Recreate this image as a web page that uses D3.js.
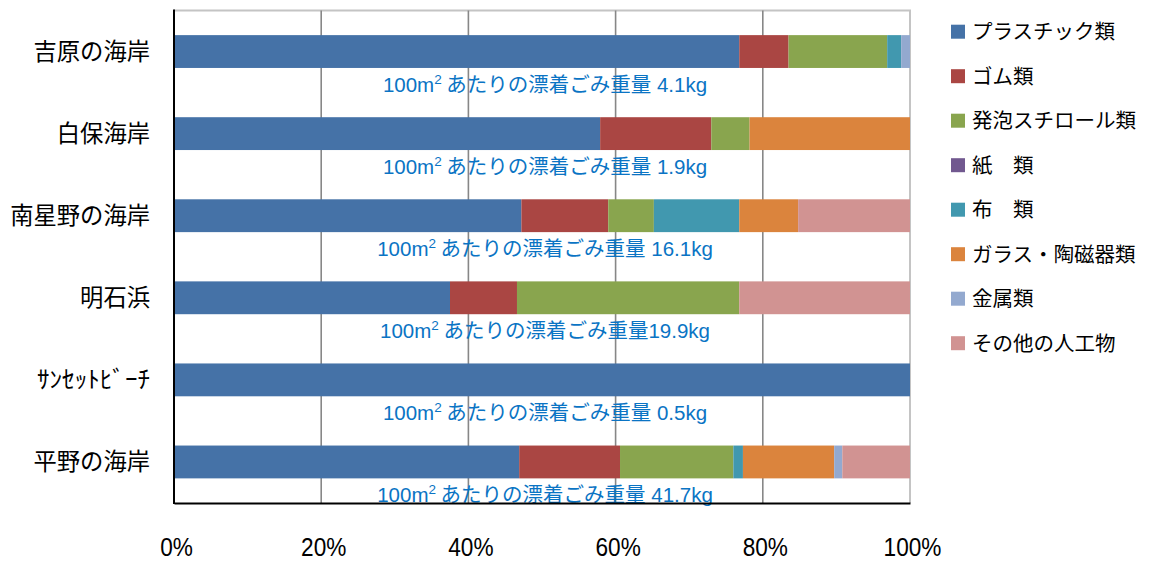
<!DOCTYPE html>
<html>
<head>
<meta charset="utf-8">
<script src="https://cdn.jsdelivr.net/npm/d3@7/dist/d3.min.js"></script>
<style>
  html, body { margin: 0; padding: 0; background: #fff; }
  svg { display: block; }
</style>
</head>
<body>
<svg id="chart" width="1162" height="561"></svg>
<script>
// Beaches (top to bottom)
const categories = ["吉原の海岸", "白保海岸", "南星野の海岸", "明石浜", "ｻﾝｾｯﾄﾋﾞｰﾁ", "平野の海岸"];

// Litter categories (legend order = stacking order)
const seriesNames = ["プラスチック類", "ゴム類", "発泡スチロール類", "紙　類", "布　類", "ガラス・陶磁器類", "金属類", "その他の人工物"];
const seriesColors = ["#4572A7", "#AA4643", "#89A54E", "#71588F", "#4198AF", "#DB843D", "#93A9CF", "#D19392"];

// Share of weight (%) per beach, one array per litter category
const plastic   = [76.8, 57.9, 47.2, 37.5, 100.0, 46.9];
const rubber    = [ 6.7, 15.1, 11.8,  9.1,   0.0, 13.7];
const styrofoam = [13.4,  5.2,  6.2, 30.2,   0.0, 15.4];
const paper     = [ 0.0,  0.0,  0.0,  0.0,   0.0,  0.0];
const cloth     = [ 1.9,  0.0, 11.6,  0.0,   0.0,  1.3];
const glass     = [ 0.0, 21.8,  8.0,  0.0,   0.0, 12.4];
const metal     = [ 1.2,  0.0,  0.0,  0.0,   0.0,  1.1];
const other     = [ 0.0,  0.0, 15.2, 23.2,   0.0,  9.2];

// Litter weight per 100 m² (kg) and the spacing used before the number
const weights    = [4.1, 1.9, 16.1, 19.9, 0.5, 41.7];
const weightSeps = [" ", " ", " ", "", " ", " "];

const xTicks = [0, 20, 40, 60, 80, 100];

const seriesValues = [plastic, rubber, styrofoam, paper, cloth, glass, metal, other];

// Rows for d3.stack
const rows = categories.map((c, i) => {
  const r = { category: c };
  seriesNames.forEach((s, k) => { r[s] = seriesValues[k][i]; });
  return r;
});

const svg = d3.select("#chart");
const plot = { left: 174, right: 910, top: 10.5, bottom: 503 };

const x = d3.scaleLinear().domain([0, 100]).range([plot.left, plot.right]);
const y = d3.scaleBand().domain(categories).range([plot.top, plot.bottom]).paddingInner(0.6).paddingOuter(0.3);
const color = d3.scaleOrdinal().domain(seriesNames).range(seriesColors);

const latin = "'Liberation Sans', Arial, 'Noto Sans CJK JP', sans-serif";
const cjk = "'Noto Sans CJK JP', 'Noto Sans', sans-serif";

// Plot-area frame (top and right edges, light gray)
svg.append("path")
  .attr("d", `M${plot.left},${plot.top}H${plot.right}V${plot.bottom}`)
  .attr("fill", "none").attr("stroke", "#c4c4c4").attr("stroke-width", 2);

// Vertical gridlines
svg.append("g").selectAll("line")
  .data(xTicks.filter(t => t > 0 && t < 100))
  .join("line")
  .attr("x1", d => x(d)).attr("x2", d => x(d))
  .attr("y1", plot.top).attr("y2", plot.bottom)
  .attr("stroke", "#878787").attr("stroke-width", 1.6);

// Stacked bars
const stacked = d3.stack().keys(seriesNames)(rows);
svg.append("g").selectAll("g")
  .data(stacked)
  .join("g")
  .attr("fill", d => color(d.key))
  .selectAll("rect")
  .data(d => d)
  .join("rect")
  .attr("x", d => x(d[0]))
  .attr("width", d => Math.max(0, x(d[1]) - x(d[0])))
  .attr("y", d => y(d.data.category))
  .attr("height", y.bandwidth());

// Weight annotations under each bar
const notes = svg.append("g")
  .attr("fill", "#0a74c4")
  .attr("font-size", 20.5)
  .attr("font-family", latin)
  .selectAll("text")
  .data(categories)
  .join("text")
  .attr("x", x(50) + 3)
  .attr("y", (d, i) => y(d) + y.bandwidth() / 2 + 40)
  .attr("text-anchor", "middle");
notes.append("tspan").text("100m");
notes.append("tspan").attr("font-size", 13.5).attr("dy", -7.5).text("2");
notes.append("tspan").attr("dy", 7.5).attr("font-family", cjk).text(" あたりの漂着ごみ重量");
notes.append("tspan").text((d, i) => weightSeps[i] + weights[i] + "kg");

// Left axis (category labels); half-width katakana names are stretched to full label width
const halfWidth = /[\uFF61-\uFF9F]/;
svg.append("g")
  .selectAll("text")
  .data(categories)
  .join("text")
  .attr("x", 150)
  .attr("y", d => y(d) + y.bandwidth() / 2)
  .attr("dy", "0.36em")
  .attr("text-anchor", "end")
  .attr("font-family", cjk)
  .attr("font-size", 23.3)
  .attr("fill", "#000")
  .each(function (d) {
    if (halfWidth.test(d)) {
      d3.select(this).attr("textLength", 113).attr("lengthAdjust", "spacingAndGlyphs");
    }
  })
  .text(d => d);

svg.append("line")
  .attr("x1", plot.left).attr("x2", plot.left)
  .attr("y1", plot.top - 1).attr("y2", plot.bottom + 1)
  .attr("stroke", "#000").attr("stroke-width", 2);

// Bottom axis (condensed tick labels)
const xAxis = svg.append("g")
  .attr("transform", `translate(0,${plot.bottom})`)
  .call(d3.axisBottom(x).tickValues(xTicks).tickSize(0).tickFormat(d => d + "%"));
xAxis.select(".domain").attr("stroke", "#000").attr("stroke-width", 2.2);
xAxis.selectAll("text")
  .attr("font-family", latin)
  .attr("font-size", 26)
  .attr("fill", "#000")
  .attr("x", 2)
  .attr("y", 53)
  .attr("dy", 0)
  .each(function () {
    const w = this.getComputedTextLength();
    d3.select(this).attr("textLength", w * 0.87).attr("lengthAdjust", "spacingAndGlyphs");
  });

// Legend
const legend = svg.append("g")
  .selectAll("g")
  .data(seriesNames)
  .join("g")
  .attr("transform", (d, i) => `translate(951,${31.7 + i * 44.5})`);
legend.append("rect")
  .attr("x", 0).attr("y", -7).attr("width", 14).attr("height", 14)
  .attr("fill", d => color(d));
legend.append("text")
  .attr("x", 21).attr("y", 0).attr("dy", "0.36em")
  .attr("font-family", cjk)
  .attr("font-size", 20.5)
  .attr("fill", "#000")
  .text(d => d);
</script>
</body>
</html>
